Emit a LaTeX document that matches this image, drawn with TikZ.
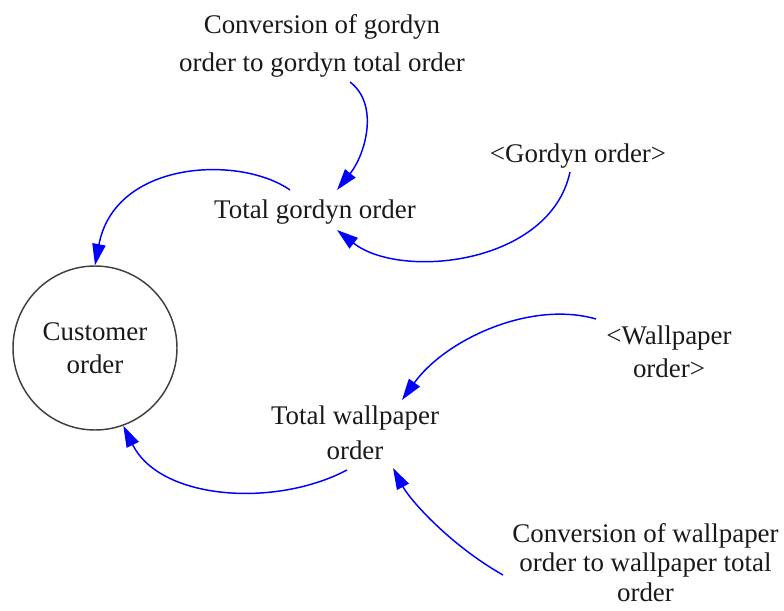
\documentclass[tikz,border=0pt]{standalone}
\usepackage{fontspec}
\setmainfont{Liberation Serif}
\usetikzlibrary{arrows.meta}
\definecolor{linkblue}{RGB}{0,0,255}
\begin{document}
\begin{tikzpicture}[x=0.75pt,y=-0.75pt,
  lbl/.style={inner sep=0pt, align=center, text=black!90,
    font=\fontsize{20.2}{#1}\selectfont},
  lbl/.default=24pt,
  stock/.style={circle, draw=black!75, line width=1.1pt,
    minimum size=123pt, inner sep=0pt},
  link/.style={draw=linkblue, line width=1.1pt,
    -{Triangle[length=16pt,width=10pt]}}]
\useasboundingbox (0,0) rectangle (784,610);

% variables
\node[lbl=28.5pt] (cg) at (322,45.8) {Conversion of gordyn\\order to gordyn total order};
\node[lbl] (go) at (578,155.8) {<Gordyn order>};
\node[lbl] (tgo) at (315,211.8) {Total gordyn order};
\node[stock, lbl=24.75pt] (co) at (95,348) {Customer\\order};
\node[lbl=24.75pt] (wo) at (669,352) {<Wallpaper\\order>};
\node[lbl=26.25pt] (tw) at (355,433) {Total wallpaper\\order};
\node[lbl=22.1pt] (cw) at (645.5,562.3) {Conversion of wallpaper\\order to wallpaper total\\order};

% causal links
\draw[link] ([shift={(28,36.2)}]cg.center) .. controls (380,105) and (365,155) .. ([shift={(22,-21.8)}]tgo.center);
\draw[link] ([shift={(-8,16.2)}]go.center) .. controls (550,265) and (400,280) .. ([shift={(22,18.2)}]tgo.center);
\draw[link] ([shift={(-25,-21.8)}]tgo.center) .. controls (240,155) and (115,160) .. (co.90);
\draw[link] ([shift={(-73,-33)}]wo.center) .. controls (530,300) and (445,340) .. ([shift={(47,-33)}]tw.center);
\draw[link] ([shift={(-8,37)}]tw.center) .. controls (275,508) and (160,500) .. (co.-70);
\draw[link] ([shift={(-142.5,12.7)}]cw.center) .. controls (450,545) and (410,500) .. ([shift={(38,35)}]tw.center);
\end{tikzpicture}
\end{document}
